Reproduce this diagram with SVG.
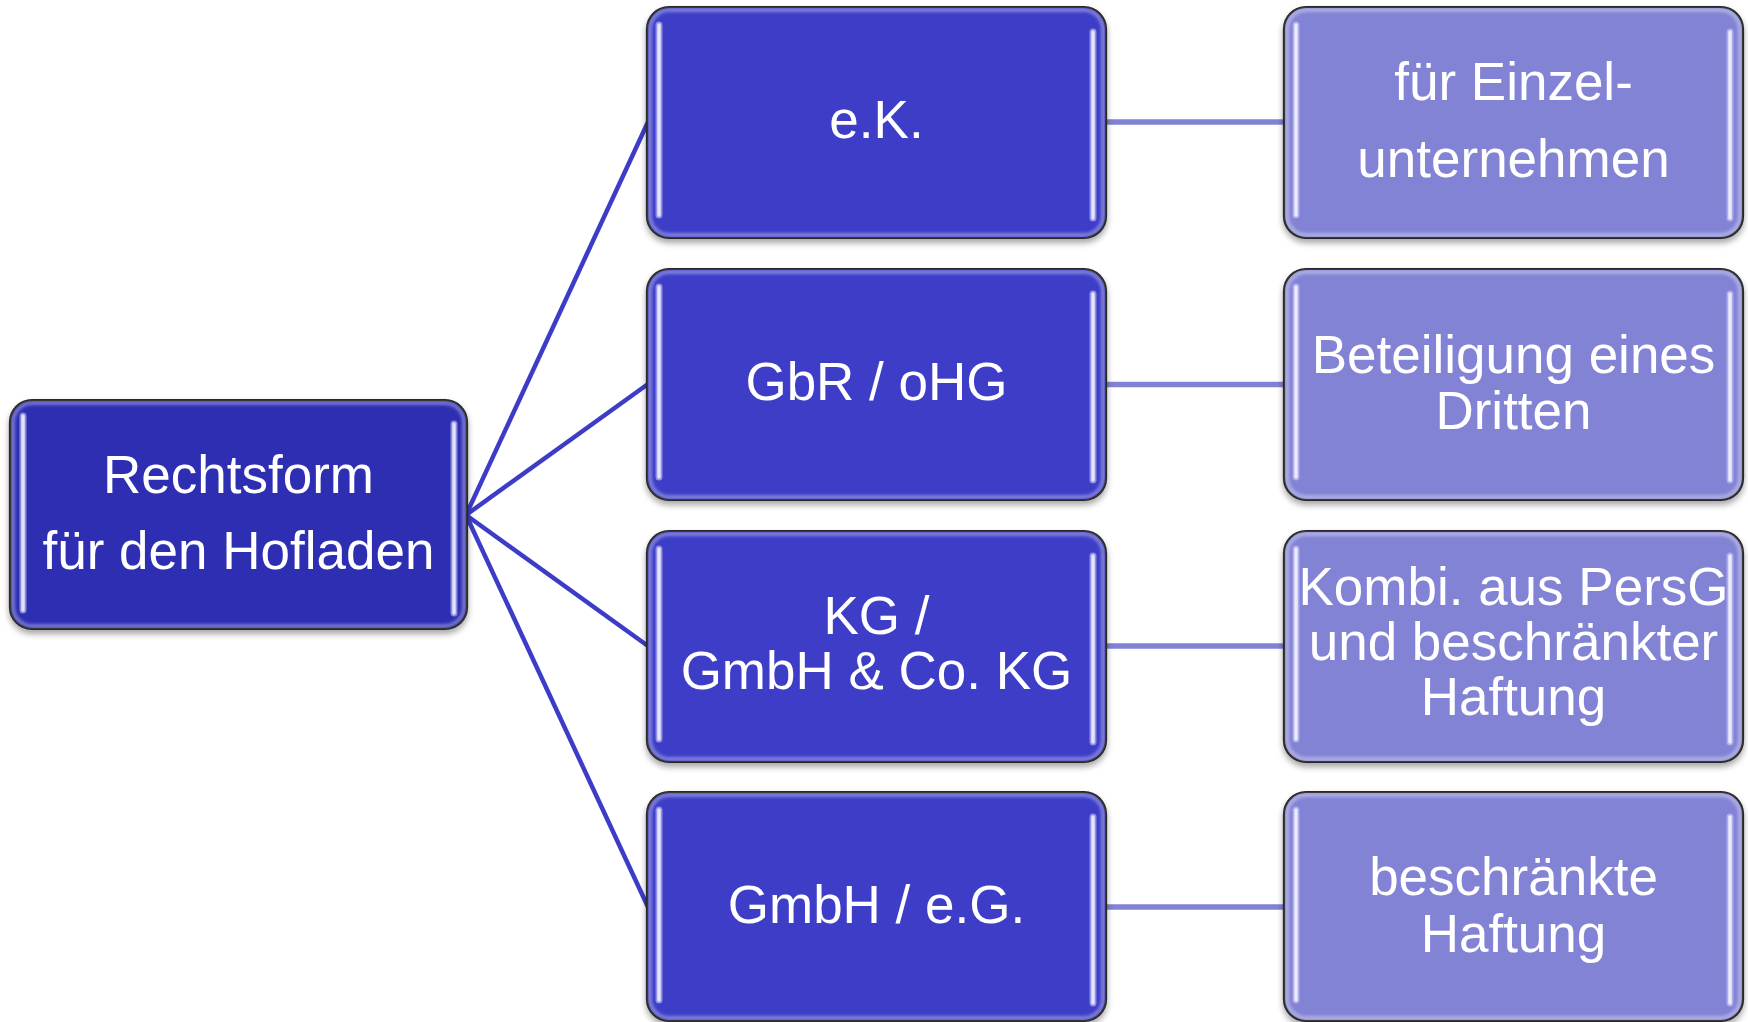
<svg xmlns="http://www.w3.org/2000/svg" width="1748" height="1022" viewBox="0 0 1748 1022">
<defs>
<filter id="sh" x="-10%" y="-10%" width="120%" height="125%">
<feGaussianBlur in="SourceAlpha" stdDeviation="3"/>
<feOffset dy="4"/>
<feComponentTransfer><feFuncA type="linear" slope="0.35"/></feComponentTransfer>
<feMerge><feMergeNode/><feMergeNode in="SourceGraphic"/></feMerge>
</filter>
<filter id="bl" x="-5%" y="-5%" width="110%" height="110%"><feGaussianBlur stdDeviation="1.5"/></filter>
</defs>
<style>
.box{stroke:#1b1b1b;stroke-width:2.2}
.root{fill:#2e2db3}
.mid{fill:#3c3cc8}
.side{fill:#8383d5}
.rim{fill:none;stroke:#ffffff;stroke-opacity:0.35;stroke-width:4}
.bar{stroke:#ffffff;stroke-opacity:0.75;stroke-width:3.5;stroke-linecap:round}
.barg{stroke:#c8c8ff;stroke-opacity:0.6;stroke-width:7;stroke-linecap:round}
text{font-family:"Liberation Sans",Arial,sans-serif;font-size:53px;fill:#ffffff;text-anchor:middle}
.c1{stroke:#3c3cc8;stroke-width:4.5;fill:none}
.c2{stroke:#8282d4;stroke-width:5.5;fill:none}
</style>
<g id="connectors">
<line class="c1" x1="466" y1="515" x2="648" y2="122"/>
<line class="c1" x1="466" y1="515" x2="648" y2="384"/>
<line class="c1" x1="466" y1="515" x2="648" y2="646"/>
<line class="c1" x1="466" y1="515" x2="648" y2="907"/>
<line class="c2" x1="1104" y1="122" x2="1284" y2="122"/>
<line class="c2" x1="1104" y1="384.5" x2="1284" y2="384.5"/>
<line class="c2" x1="1104" y1="646" x2="1284" y2="646"/>
<line class="c2" x1="1104" y1="907" x2="1284" y2="907"/>
</g>
<g id="root">
<rect class="box root" x="10" y="400" width="457" height="229" rx="22" filter="url(#sh)"/>
<rect class="rim" x="13" y="403" width="451" height="223" rx="19" filter="url(#bl)"/>
<line class="barg" x1="23" y1="416" x2="23" y2="610"/><line class="bar" x1="23" y1="416" x2="23" y2="610"/>
<line class="barg" x1="454" y1="424" x2="454" y2="613"/><line class="bar" x1="454" y1="424" x2="454" y2="613"/>
<text x="238.5" y="493">Rechtsform</text>
<text x="238.5" y="569">für den Hofladen</text>
</g>
<g id="m1">
<rect class="box mid" x="647" y="7" width="459" height="231" rx="22" filter="url(#sh)"/>
<rect class="rim" x="650" y="10" width="453" height="225" rx="19" filter="url(#bl)"/>
<line class="barg" x1="659" y1="25" x2="659" y2="215"/><line class="bar" x1="659" y1="25" x2="659" y2="215"/>
<line class="barg" x1="1093" y1="32" x2="1093" y2="218"/><line class="bar" x1="1093" y1="32" x2="1093" y2="218"/>
<text x="876.5" y="138">e.K.</text>
</g>
<g id="m2">
<rect class="box mid" x="647" y="269" width="459" height="231" rx="22" filter="url(#sh)"/>
<rect class="rim" x="650" y="272" width="453" height="225" rx="19" filter="url(#bl)"/>
<line class="barg" x1="659" y1="287" x2="659" y2="477"/><line class="bar" x1="659" y1="287" x2="659" y2="477"/>
<line class="barg" x1="1093" y1="294" x2="1093" y2="480"/><line class="bar" x1="1093" y1="294" x2="1093" y2="480"/>
<text x="876.5" y="400">GbR / oHG</text>
</g>
<g id="m3">
<rect class="box mid" x="647" y="531" width="459" height="231" rx="22" filter="url(#sh)"/>
<rect class="rim" x="650" y="534" width="453" height="225" rx="19" filter="url(#bl)"/>
<line class="barg" x1="659" y1="549" x2="659" y2="739"/><line class="bar" x1="659" y1="549" x2="659" y2="739"/>
<line class="barg" x1="1093" y1="556" x2="1093" y2="742"/><line class="bar" x1="1093" y1="556" x2="1093" y2="742"/>
<text x="876.5" y="634">KG /</text>
<text x="876.5" y="689">GmbH &amp; Co. KG</text>
</g>
<g id="m4">
<rect class="box mid" x="647" y="792" width="459" height="229" rx="22" filter="url(#sh)"/>
<rect class="rim" x="650" y="795" width="453" height="223" rx="19" filter="url(#bl)"/>
<line class="barg" x1="659" y1="810" x2="659" y2="1000"/><line class="bar" x1="659" y1="810" x2="659" y2="1000"/>
<line class="barg" x1="1093" y1="817" x2="1093" y2="1003"/><line class="bar" x1="1093" y1="817" x2="1093" y2="1003"/>
<text x="876.5" y="923">GmbH / e.G.</text>
</g>
<g id="r1">
<rect class="box side" x="1284" y="7" width="459" height="231" rx="22" filter="url(#sh)"/>
<rect class="rim" x="1287" y="10" width="453" height="225" rx="19" filter="url(#bl)"/>
<line class="barg" x1="1296" y1="25" x2="1296" y2="215"/><line class="bar" x1="1296" y1="25" x2="1296" y2="215"/>
<line class="barg" x1="1730" y1="32" x2="1730" y2="218"/><line class="bar" x1="1730" y1="32" x2="1730" y2="218"/>
<text x="1513.5" y="100">für Einzel-</text>
<text x="1513.5" y="177">unternehmen</text>
</g>
<g id="r2">
<rect class="box side" x="1284" y="269" width="459" height="231" rx="22" filter="url(#sh)"/>
<rect class="rim" x="1287" y="272" width="453" height="225" rx="19" filter="url(#bl)"/>
<line class="barg" x1="1296" y1="287" x2="1296" y2="477"/><line class="bar" x1="1296" y1="287" x2="1296" y2="477"/>
<line class="barg" x1="1730" y1="294" x2="1730" y2="480"/><line class="bar" x1="1730" y1="294" x2="1730" y2="480"/>
<text x="1513.5" y="373">Beteiligung eines</text>
<text x="1513.5" y="429">Dritten</text>
</g>
<g id="r3">
<rect class="box side" x="1284" y="531" width="459" height="231" rx="22" filter="url(#sh)"/>
<rect class="rim" x="1287" y="534" width="453" height="225" rx="19" filter="url(#bl)"/>
<line class="barg" x1="1296" y1="549" x2="1296" y2="739"/><line class="bar" x1="1296" y1="549" x2="1296" y2="739"/>
<line class="barg" x1="1730" y1="556" x2="1730" y2="742"/><line class="bar" x1="1730" y1="556" x2="1730" y2="742"/>
<text x="1513.5" y="605">Kombi. aus PersG</text>
<text x="1513.5" y="660">und beschränkter</text>
<text x="1513.5" y="715">Haftung</text>
</g>
<g id="r4">
<rect class="box side" x="1284" y="792" width="459" height="229" rx="22" filter="url(#sh)"/>
<rect class="rim" x="1287" y="795" width="453" height="223" rx="19" filter="url(#bl)"/>
<line class="barg" x1="1296" y1="810" x2="1296" y2="1000"/><line class="bar" x1="1296" y1="810" x2="1296" y2="1000"/>
<line class="barg" x1="1730" y1="817" x2="1730" y2="1003"/><line class="bar" x1="1730" y1="817" x2="1730" y2="1003"/>
<text x="1513.5" y="895">beschränkte</text>
<text x="1513.5" y="952">Haftung</text>
</g>
</svg>
